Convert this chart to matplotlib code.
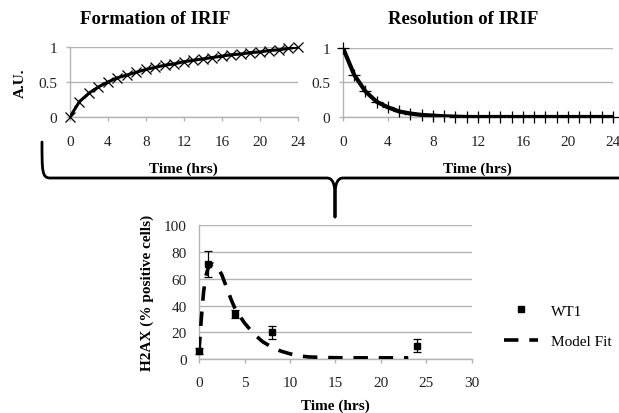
import numpy as np
import matplotlib.pyplot as plt
from matplotlib.path import Path
from matplotlib.patches import PathPatch
from matplotlib.lines import Line2D

plt.rcParams['font.family'] = ['Liberation Serif', 'DejaVu Serif']

# hourly time points for the two model panels
hours = list(range(25))
formation = [0.0, 0.22, 0.34, 0.43, 0.50, 0.56, 0.60, 0.64, 0.68, 0.71, 0.74, 0.76,
             0.79, 0.81, 0.83, 0.85, 0.87, 0.89, 0.90, 0.92, 0.93, 0.95, 0.96, 0.98, 1.0]
resolution = [1.0, 0.61, 0.37, 0.22, 0.14, 0.08, 0.05, 0.03, 0.02, 0.01, 0.005, 0.0,
              0.0, 0.0, 0.0, 0.0, 0.0, 0.0, 0.0, 0.0, 0.0, 0.0, 0.0, 0.0, 0.0]

# H2AX measurements and model fit
wt1_t = [0, 1, 4, 8, 24]
wt1_y = [6, 71, 34, 20, 10]
wt1_err = [2, 10, 3, 5, 5]
fit_t = [0, 0.25, 0.5, 0.75, 1, 1.5, 2, 2.5, 3, 3.5, 4, 5, 6, 7, 8, 9, 10, 11, 12,
         14, 16, 18, 20, 23]
fit_y = [6, 30, 50, 62, 68, 71, 69, 63, 54, 45, 37, 27, 19, 13, 9, 6, 4, 2.5, 1.7,
         1.2, 1.0, 1.0, 1.0, 1.0]

GRID = '#b4b4b4'

fig = plt.figure(figsize=(6.19, 4.14), dpi=100)


def excel_axes(ax):
    for s in ['top', 'right']:
        ax.spines[s].set_visible(False)
    for s in ['left', 'bottom']:
        ax.spines[s].set_color(GRID)
        ax.spines[s].set_linewidth(1.0)
    ax.yaxis.grid(True, color=GRID, lw=1.0)
    ax.set_axisbelow(True)
    ax.tick_params(axis='both', colors=GRID, labelcolor='#222222', labelsize=11,
                   width=1.0)
    ax.tick_params(axis='x', length=3, pad=10)
    ax.tick_params(axis='y', length=3, pad=6)


ax1 = fig.add_axes([0.113, 0.715, 0.368, 0.169])
ax1.plot(hours, formation, color='black', lw=2.2, zorder=3)
ax1.plot(hours, formation, ls='none', marker='x', ms=7, mew=0.9, color='black',
         clip_on=False, zorder=4)
ax1.set_xlim(0, 24)
ax1.set_ylim(0, 1)
ax1.set_xticks(range(0, 25, 4))
ax1.set_yticks([0, 0.5, 1])
ax1.set_yticklabels(['0', '0.5', '1'])
ax1.set_xlabel('Time (hrs)', fontweight='bold', fontsize=11, labelpad=10)
ax1.set_ylabel('A.U.', fontweight='bold', fontsize=11, labelpad=8)
excel_axes(ax1)

ax2 = fig.add_axes([0.554, 0.715, 0.436, 0.167])
ax2.plot(hours, resolution, color='black', lw=3.0, zorder=3)
ax2.plot(hours, resolution, ls='none', marker='+', ms=9, mew=0.9, color='black',
         clip_on=False, zorder=4)
ax2.set_xlim(0, 24)
ax2.set_ylim(0, 1)
ax2.set_xticks(range(0, 25, 4))
ax2.set_yticks([0, 0.5, 1])
ax2.set_yticklabels(['0', '0.5', '1'])
ax2.set_xlabel('Time (hrs)', fontweight='bold', fontsize=11, labelpad=10)
excel_axes(ax2)

fig.text(0.250, 0.952, 'Formation of IRIF', ha='center', va='center',
         fontweight='bold', fontsize=13.5)
fig.text(0.748, 0.952, 'Resolution of IRIF', ha='center', va='center',
         fontweight='bold', fontsize=13.5)

ax3 = fig.add_axes([0.3215, 0.130, 0.441, 0.324])
ax3.plot(fit_t, fit_y, color='black', lw=2.6, ls=(0, (4, 3)), zorder=3)
ax3.errorbar(wt1_t, wt1_y, yerr=wt1_err, fmt='s', ms=4, color='black', ecolor='black',
             elinewidth=0.9, capsize=3, capthick=0.9, zorder=4, clip_on=False)
ax3.set_xlim(0, 30)
ax3.set_ylim(0, 100)
ax3.set_xticks(range(0, 31, 5))
ax3.set_yticks(range(0, 101, 20))
ax3.set_xlabel('Time (hrs)', fontweight='bold', fontsize=11, labelpad=7)
ax3.set_ylabel('H2AX (% positive cells)', fontweight='bold', fontsize=11, labelpad=7)
excel_axes(ax3)
ax3.tick_params(axis='y', length=0, pad=9)
ax3.tick_params(axis='x', pad=9)

handles = [Line2D([], [], ls='none', marker='s', ms=4, color='black'),
           Line2D([], [], color='black', lw=2.6, ls=(0, (4, 3)))]
fig.legend(handles, ['WT1', 'Model Fit'], loc='center left',
           bbox_to_anchor=(0.792, 0.210), frameon=False, fontsize=11,
           handlelength=2.2, handletextpad=0.9, labelspacing=1.1)

# curly brace joining the two model panels to the data panel
W, H = 619, 414
pts = [(42, 143), (42, 172), (42, 179), (50, 179),
       (327, 179), (332, 179), (335, 184), (335, 196),
       (335, 218), (335, 218), (335, 218),
       (335, 196), (335, 184), (338, 179), (343, 179),
       (619, 179)]
codes = [Path.MOVETO, Path.CURVE4, Path.CURVE4, Path.CURVE4,
         Path.LINETO, Path.CURVE4, Path.CURVE4, Path.CURVE4,
         Path.LINETO, Path.MOVETO, Path.MOVETO,
         Path.LINETO, Path.CURVE4, Path.CURVE4, Path.CURVE4,
         Path.LINETO]
brace = Path([(x / W, 1 - y / H) for x, y in pts], codes)
fig.add_artist(PathPatch(brace, facecolor='none', edgecolor='black', lw=2.0,
                         transform=fig.transFigure, capstyle='round',
                         joinstyle='round'))

fig.savefig('out.png', dpi=100)
